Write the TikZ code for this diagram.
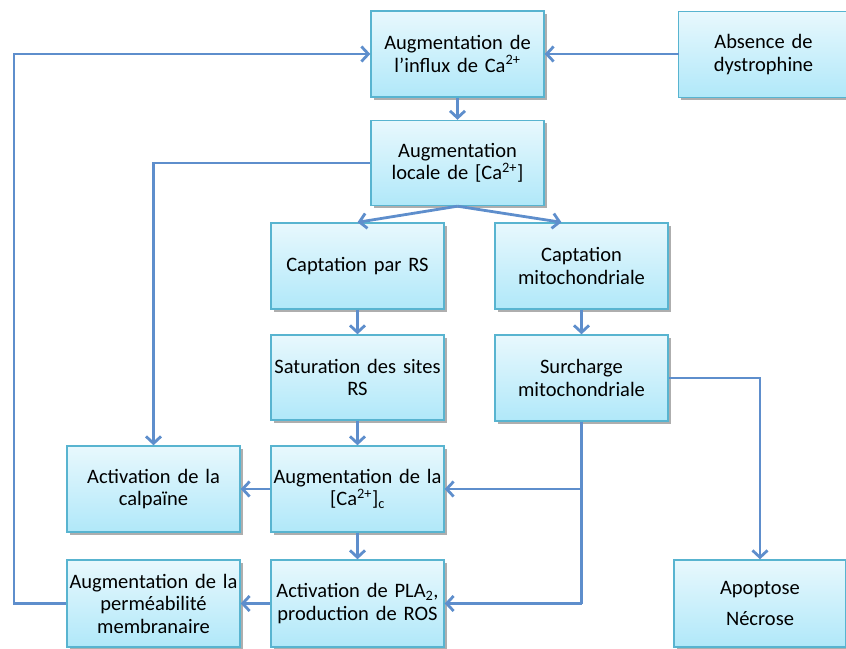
\documentclass[tikz,border=0pt]{standalone}
\usepackage{fontspec}
\setmainfont{Carlito}
\usetikzlibrary{arrows.meta,shadows,calc}
\definecolor{boxborder}{RGB}{88,180,208}
\definecolor{boxtop}{RGB}{232,248,253}
\definecolor{boxbot}{RGB}{176,232,249}
\definecolor{arrowc}{RGB}{94,142,204}
\tikzset{
  stepbox/.style={draw=boxborder, line width=1.4pt, top color=boxtop, bottom color=boxbot,
    minimum width=173pt, minimum height=86pt, inner sep=0pt, align=center,
    text width=170pt, font=\fontsize{20.5}{22.5}\selectfont,
    drop shadow={shadow xshift=2.5pt, shadow yshift=-2.5pt, opacity=0.45, fill=black!70}},
  conn/.style={draw=arrowc, line width=2.8pt, -{Straight Barb[length=7pt,width=15pt,line width=2.8pt]}},
  plain/.style={draw=arrowc, line width=2.8pt}
}
\begin{document}
\begin{tikzpicture}[x=1pt,y=-1pt]
\useasboundingbox (0,0) rectangle (846,648);
\node[stepbox] (inf) at (457.5,54) {Augmentation de\\l’influx de Ca\textsuperscript{2+}};
\node[stepbox, minimum width=165pt] (abs) at (763.5,54.5) {Absence de\\dystrophine};
\node[stepbox, minimum height=85pt] (loc) at (457.5,163) {Augmentation\\locale de [Ca\textsuperscript{2+}]};
\node[stepbox] (crs) at (357.5,266) {Captation par RS};
\node[stepbox] (cmi) at (581.5,266) {Captation\\mitochondriale};
\node[stepbox, minimum height=85pt] (sat) at (357.5,377.5) {Saturation des sites\\RS};
\node[stepbox] (sur) at (581.5,378) {Surcharge\\mitochondriale};
\node[stepbox] (cal) at (153.5,489) {Activation de la\\calpaïne};
\node[stepbox] (cac) at (357.5,489) {Augmentation de la\\{}[Ca\textsuperscript{2+}]\textsubscript{c}};
\node[stepbox, minimum height=87pt] (per) at (153.5,603.5) {Augmentation de la\\perméabilité\\membranaire};
\node[stepbox, minimum height=87pt] (pla) at (357.5,603.5) {Activation de PLA\textsubscript{2},\\production de ROS};
\node[stepbox, minimum width=172pt, minimum height=87pt] (apo) at (760,603.5) {Apoptose\\[8pt]Nécrose};

\coordinate (lp) at (14,603.5);
\draw[conn] (abs.west) -- (inf.west -| abs.west) -- (inf.east);
\draw[conn] (per.west) -- (lp) |- (inf.west);
\draw[conn] (inf.south) -- (loc.north);
\draw[conn] (loc.west) -| (cal.north);
\draw[conn] (loc.south) -- (crs.north);
\draw[conn] (loc.south) -- ([xshift=-20pt]cmi.north);
\draw[conn] (crs.south) -- (sat.north);
\draw[conn] (cmi.south) -- (sur.north);
\draw[conn] (sat.south) -- (cac.north);
\draw[conn] (cac.west) -- (cal.east);
\draw[conn] (cac.south) -- (pla.north);
\draw[conn] (pla.west) -- (per.west -| per.east);
\draw[plain] (sur.south) -- (sur.south |- pla.east);
\draw[conn] (sur.south |- cac.east) -- (cac.east);
\draw[conn] (sur.south |- pla.east) -- (pla.east);
\draw[conn] (sur.east) -| (apo.north);
\end{tikzpicture}
\end{document}
